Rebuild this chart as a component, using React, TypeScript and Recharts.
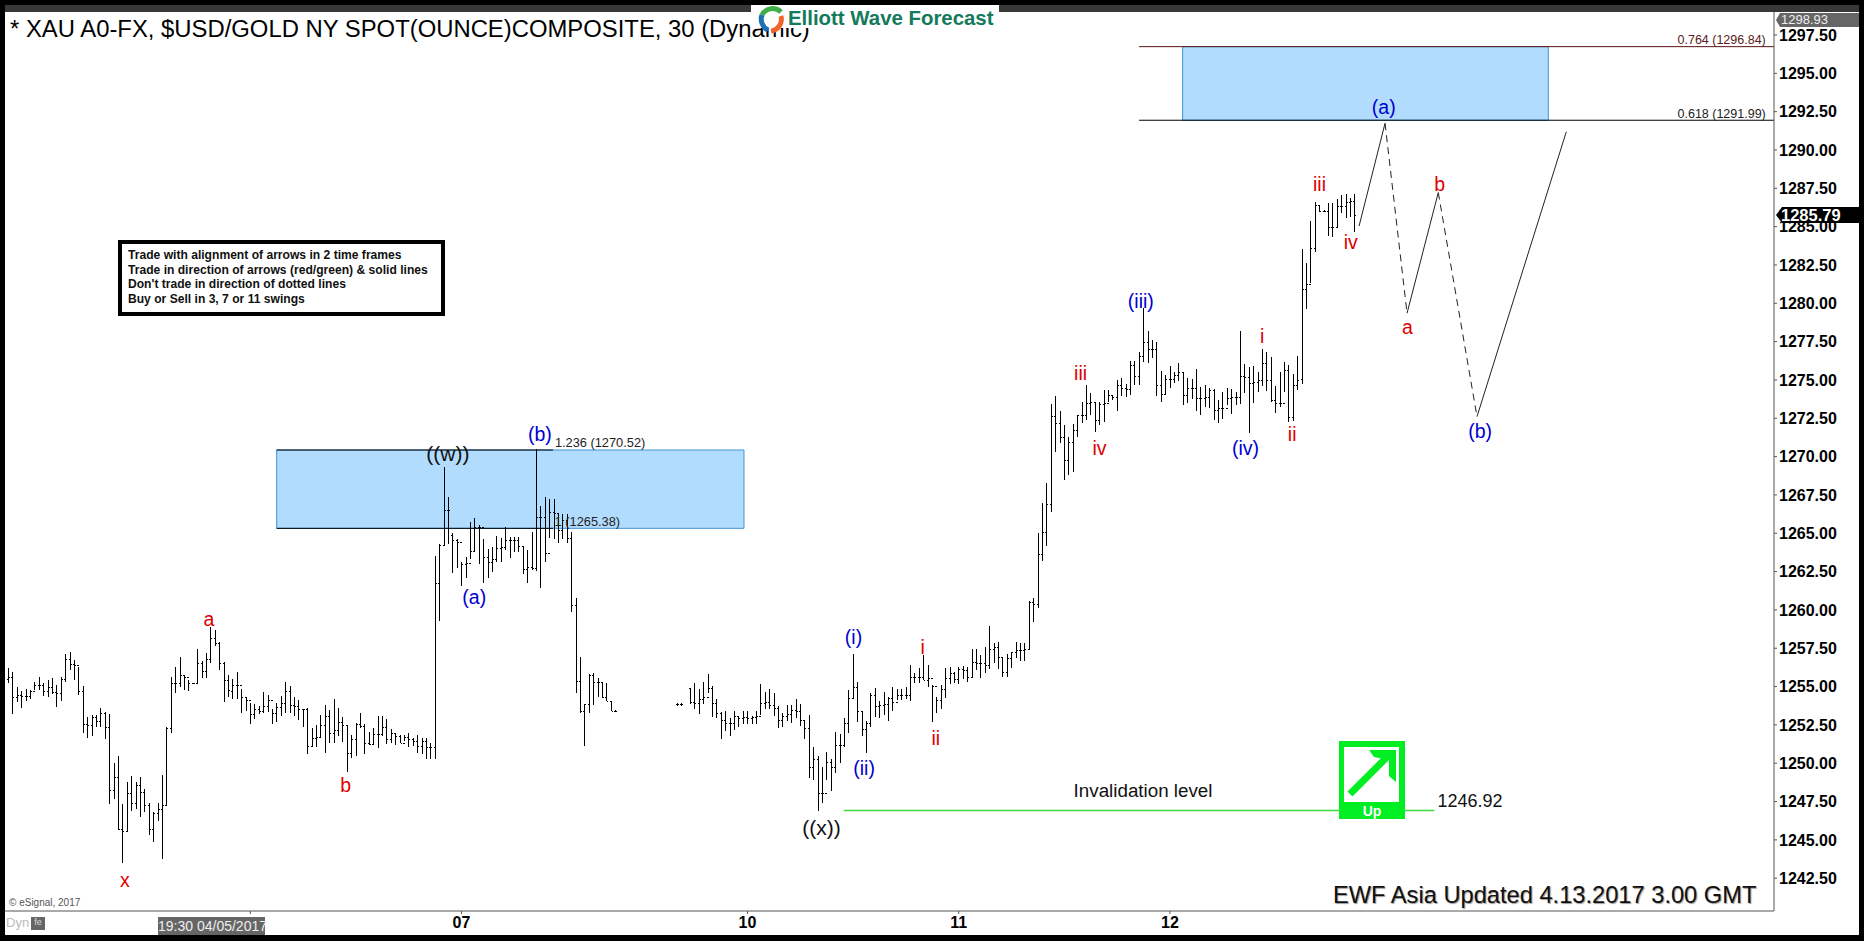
import { ComposedChart, Bar, XAxis, YAxis, ReferenceArea, ReferenceLine, ReferenceDot } from "recharts";

// 30 minute bars, slot 0 is the first bar on the left. Three runs because the feed has a gap.
const startA = 0;
const highsA = [1256.19,1255.93,1254.95,1254.71,1254.82,1254.77,1255.32,1255.60,1255.21,1255.43,1255.54,1255.10,1255.60,1257.10,1257.27,1256.73,1256.25,1255.04,1252.99,1253.14,1253.14,1253.58,1253.32,1253.19,1249.99,1250.47,1247.32,1248.75,1249.17,1248.80,1249.08,1248.30,1247.38,1246.84,1247.43,1249.23,1252.38,1255.60,1256.30,1256.91,1255.75,1255.43,1255.25,1257.43,1256.69,1257.17,1258.86,1258.69,1257.93,1256.62,1255.75,
  1255.47,1255.93,1254.82,1254.23,1253.95,1253.86,1253.73,1254.62,1254.47,1253.51,1253.95,1254.38,1255.27,1255.04,1254.30,1254.10,1253.51,1253.58,1252.27,1252.47,1253.12,1253.80,1253.47,1254.19,1253.58,1252.99,1252.49,1251.84,1252.60,1253.25,1252.56,1252.06,1252.27,1253.08,1253.08,1252.88,1252.23,1251.95,1251.84,1251.84,1251.95,1251.62,1251.84,1251.62,1251.64,1251.34,
  1263.51,1264.30,1269.30,1267.34,1265.04,1264.60,1263.15,1263.43,1265.75,1265.97,1265.54,1264.60,1263.95,1264.12,1264.84,1264.67,1265.43,1264.73,1264.78,1264.78,1264.17,1263.91,1265.10,1270.52,1266.78,1267.34,1267.21,1267.21,1266.25,1266.25,1266.25,1265.10,1260.75,1256.91,1253.86,1255.80,1255.91,1255.54,1255.25,1255.25,1254.06,1253.48];
const lowsA = [1255.25,1253.21,1254.01,1253.62,1254.08,1254.19,1254.77,1254.77,1254.38,1254.34,1254.51,1253.69,1254.06,1255.32,1256.08,1255.43,1254.45,1251.99,1251.62,1251.80,1252.38,1252.38,1251.56,1247.32,1247.67,1245.64,1243.51,1245.58,1246.91,1246.99,1246.51,1246.84,1245.32,1244.88,1246.23,1243.77,1247.27,1251.95,1254.56,1254.99,1254.77,1254.73,1255.17,1255.21,1255.54,1255.54,1256.51,1257.64,1256.08,1254.01,1254.34,
  1254.19,1254.19,1253.30,1253.43,1252.56,1252.86,1253.21,1253.25,1253.32,1252.56,1252.71,1253.08,1253.30,1253.30,1253.08,1252.82,1252.38,1250.60,1251.04,1251.08,1251.62,1250.69,1251.30,1251.30,1251.77,1251.41,1249.45,1250.32,1250.47,1252.27,1250.60,1251.19,1251.19,1250.99,1251.80,1251.23,1251.30,1251.19,1251.30,1251.47,1251.08,1251.12,1250.69,1250.58,1250.27,1250.25,
  1250.30,1259.30,1264.19,1264.28,1262.43,1262.71,1261.58,1262.06,1263.30,1263.80,1262.99,1261.73,1262.06,1262.49,1263.15,1263.15,1263.91,1263.41,1263.75,1263.80,1262.32,1261.78,1262.60,1262.54,1261.41,1263.10,1264.67,1264.60,1264.34,1264.60,1264.38,1259.88,1254.60,1253.30,1251.15,1253.25,1253.80,1254.34,1254.23,1254.06,1253.43,1253.38];
const opensA = [1255.50,1255.64,1254.34,1254.45,1254.38,1254.38,1254.73,1255.10,1255.10,1254.73,1254.95,1254.67,1254.60,1255.47,1256.77,1256.47,1256.41,1254.73,1252.54,1252.49,1253.04,1252.77,1253.30,1252.38,1248.25,1249.08,1245.69,1245.56,1248.08,1247.38,1248.58,1248.14,1247.27,1245.69,1246.77,1247.01,1247.27,1252.27,1255.21,1255.21,1255.75,1255.60,1255.21,1255.21,1256.51,1256.04,1256.77,1258.14,1257.82,1256.51,1255.43,
  1254.73,1255.10,1255.10,1254.34,1254.12,1253.19,1253.51,1253.43,1253.73,1254.12,1253.25,1253.64,1253.90,1254.73,1253.80,1253.73,1253.51,1253.51,1251.12,1251.62,1251.73,1252.49,1253.08,1251.95,1252.17,1252.71,1252.49,1250.69,1251.56,1252.56,1252.43,1251.30,1251.25,1251.91,1251.91,1252.38,1251.58,1251.95,1251.77,1251.34,1251.73,1251.56,1251.47,1251.12,1251.47,1251.08,
  1251.08,1261.73,1264.23,1266.51,1264.90,1264.56,1264.45,1262.99,1263.04,1263.86,1265.43,1265.43,1263.47,1263.15,1263.30,1264.01,1264.08,1264.56,1264.56,1264.56,1264.17,1262.65,1262.78,1262.71,1266.08,1266.08,1263.69,1266.41,1266.30,1265.21,1265.86,1264.67,1260.32,1255.38,1253.43,1253.86,1255.75,1255.32,1255.32,1254.34,1254.06,1253.43];
const closesA = [1255.64,1254.34,1254.45,1254.38,1254.38,1254.73,1255.10,1255.10,1254.73,1254.95,1254.67,1254.60,1255.47,1256.77,1256.47,1256.41,1254.73,1252.54,1252.49,1253.04,1252.77,1253.30,1252.38,1248.25,1249.08,1245.69,1245.56,1248.08,1247.38,1248.58,1248.14,1247.27,1245.69,1246.77,1247.01,1247.27,1252.27,1255.21,1255.21,1255.75,1255.60,1255.21,1255.21,1256.51,1256.04,1256.77,1258.14,1257.82,1256.51,1255.43,1254.77,
  1255.10,1255.10,1254.34,1254.12,1253.19,1253.51,1253.43,1253.73,1254.12,1253.25,1253.64,1253.90,1254.73,1253.80,1253.73,1253.51,1253.51,1251.12,1251.62,1251.73,1252.49,1253.08,1251.95,1252.17,1252.71,1252.49,1250.69,1251.56,1252.56,1252.43,1251.30,1251.25,1251.91,1251.91,1252.38,1251.58,1251.95,1251.77,1251.34,1251.73,1251.56,1251.47,1251.12,1251.47,1251.08,1251.08,
  1261.73,1264.23,1266.51,1266.51,1264.56,1264.45,1262.99,1263.04,1263.86,1265.43,1265.43,1263.47,1263.15,1263.30,1264.01,1264.08,1264.56,1264.56,1264.56,1264.17,1262.65,1262.78,1262.71,1266.08,1266.08,1263.69,1266.41,1266.30,1265.21,1265.86,1264.67,1260.32,1255.38,1253.43,1253.86,1255.75,1255.32,1255.32,1254.34,1254.06,1253.43,1253.43];

const startB = 152;
const highsB = [1253.94,1253.94];
const lowsB = [1253.75,1253.75];
const opensB = [1253.85,1253.85];
const closesB = [1253.85,1253.85];

const startC = 155;
const highsC = [1254.88,1255.20,1254.81,1255.27,1255.81,1255.03,1254.16,1253.31,1253.40,1252.92,1253.40,1253.03,1253.40,1253.42,1253.07,1253.40,1255.16,1254.66,1254.83,1254.55,1253.73,1253.29,1253.79,1253.79,1254.16,1253.86,1252.81,1253.14,1251.03,1250.46,1249.73,1250.75,1250.25,1252.01,1251.90,1252.92,1254.77,1257.12,1255.31,1253.42,1252.75,1254.60,1254.88,1254.07,1254.66,1254.33,1254.99,1254.81,1254.81,1254.94,1256.40,1255.86,1256.18,1257.05,
  1256.41,1255.10,1254.34,1255.10,1256.19,1256.30,1255.97,1256.30,1256.34,1256.30,1257.43,1257.43,1257.06,1257.56,1258.95,1257.82,1257.93,1256.91,1257.12,1257.28,1257.93,1257.82,1257.82,1260.56,1260.76,1264.99,1266.95,1268.26,1273.43,1273.95,1272.97,1272.06,1271.26,1272.12,1272.71,1273.56,1274.67,1274.15,1273.56,1273.56,1274.34,1274.34,1274.02,
  1275.00,1275.11,1274.74,1276.24,1276.26,1276.85,1279.67,1278.20,1277.61,1277.50,1275.59,1275.33,1275.91,1275.54,1276.09,1275.44,1275.11,1275.04,1275.70,1274.57,1274.67,1274.46,1274.41,1273.70,1274.24,1274.46,1274.41,1274.24,1278.20,1276.04,1275.87,1275.91,1275.54,1277.00,1276.85,1276.52,1274.61,1275.54,1276.20,1275.98,1275.39,1276.57,
  1283.54,1282.61,1285.39,1286.63,1286.41,1286.08,1286.52,1286.52,1286.78,1287.06,1287.13,1286.84,1287.13];
const lowsC = [1253.86,1253.53,1253.18,1253.86,1254.55,1253.03,1252.92,1251.60,1252.12,1251.79,1252.16,1252.33,1252.55,1252.55,1252.55,1252.55,1253.14,1253.51,1253.51,1253.07,1252.31,1252.38,1252.75,1252.60,1252.92,1252.42,1251.60,1249.05,1248.90,1246.90,1247.38,1248.90,1248.20,1249.33,1250.03,1251.03,1251.99,1254.23,1252.70,1251.77,1250.68,1252.38,1252.99,1252.92,1253.14,1252.75,1253.40,1254.12,1254.12,1254.16,1254.05,1255.20,1255.20,1255.42,
  1254.99,1252.70,1253.30,1253.52,1254.26,1255.17,1255.21,1255.17,1255.47,1255.32,1255.54,1256.08,1255.54,1255.91,1256.12,1256.52,1256.12,1255.60,1255.60,1256.19,1256.84,1256.69,1256.69,1257.43,1259.23,1260.10,1263.21,1264.19,1266.41,1270.32,1270.86,1268.47,1268.80,1269.02,1271.26,1272.21,1272.39,1272.71,1271.62,1272.06,1272.28,1273.56,1273.70,
  1273.00,1273.96,1273.91,1274.02,1274.67,1274.67,1276.20,1276.13,1276.41,1273.96,1273.59,1274.09,1274.50,1274.78,1274.96,1273.37,1273.52,1273.74,1273.00,1272.72,1273.22,1273.15,1272.39,1272.22,1272.44,1273.37,1272.78,1273.37,1273.41,1274.17,1271.57,1273.48,1274.24,1274.63,1274.30,1273.59,1272.83,1273.22,1274.24,1272.28,1272.35,1274.35,
  1274.74,1279.61,1281.30,1283.37,1285.97,1285.95,1284.39,1284.34,1285.00,1285.87,1285.54,1285.61,1284.67];
const opensC = [1254.88,1254.00,1253.94,1254.18,1254.33,1254.92,1253.90,1253.29,1252.81,1252.64,1252.60,1253.07,1252.92,1253.03,1252.92,1252.99,1253.07,1253.94,1254.01,1253.79,1253.57,1252.81,1253.07,1253.20,1253.46,1253.42,1252.81,1252.27,1249.73,1250.29,1248.07,1248.07,1250.10,1249.77,1251.18,1251.18,1252.64,1254.23,1254.99,1253.42,1252.20,1252.60,1254.44,1253.73,1253.79,1253.86,1254.23,1254.01,1254.44,1254.44,1254.44,1255.64,1255.60,1255.64,
  1255.46,1255.54,1255.04,1254.12,1254.82,1255.54,1255.91,1255.47,1256.12,1256.08,1255.65,1256.62,1256.56,1256.52,1256.41,1257.43,1257.60,1256.91,1255.97,1256.84,1257.24,1257.39,1257.39,1257.43,1260.54,1260.39,1263.65,1265.10,1266.91,1272.65,1272.17,1271.30,1269.78,1270.97,1271.73,1272.71,1272.71,1273.47,1273.58,1272.39,1273.40,1273.50,1274.02,
  1273.87,1274.67,1274.46,1274.39,1275.98,1275.26,1276.57,1277.50,1277.00,1277.00,1274.67,1274.09,1275.04,1275.04,1275.33,1275.54,1274.02,1274.46,1274.46,1273.80,1273.80,1273.91,1274.35,1273.04,1273.15,1273.15,1273.80,1273.87,1273.91,1275.26,1275.17,1274.83,1274.89,1275.00,1276.09,1275.00,1273.70,1273.48,1273.48,1275.65,1272.61,1274.67,
  1275.04,1280.91,1281.26,1283.58,1286.41,1286.04,1286.04,1285.00,1285.00,1286.34,1286.34,1286.63,1286.69];
const closesC = [1254.00,1253.94,1254.18,1254.33,1254.92,1253.90,1253.29,1252.81,1252.64,1252.60,1253.07,1252.92,1253.03,1252.92,1252.99,1253.07,1253.94,1254.01,1253.79,1253.57,1252.81,1253.07,1253.20,1253.46,1253.42,1252.81,1252.27,1249.73,1250.29,1248.07,1248.07,1250.10,1249.77,1251.18,1251.18,1252.64,1254.23,1254.99,1253.42,1252.20,1252.60,1254.44,1253.73,1253.79,1253.86,1254.23,1254.01,1254.44,1254.44,1254.44,1255.64,1255.60,1255.64,1255.46,
  1255.54,1255.04,1254.12,1254.82,1255.54,1255.91,1255.47,1256.12,1256.08,1255.65,1256.62,1256.56,1256.52,1256.41,1257.43,1257.60,1256.91,1255.97,1256.84,1257.24,1257.39,1257.39,1257.43,1260.54,1260.39,1263.65,1265.10,1266.91,1272.65,1272.17,1271.30,1269.78,1270.97,1271.73,1272.71,1272.71,1273.47,1273.58,1272.39,1273.40,1273.50,1274.02,1273.87,
  1274.67,1274.46,1274.39,1275.98,1275.26,1276.57,1277.50,1277.00,1277.00,1274.67,1274.09,1275.04,1275.04,1275.33,1275.54,1274.02,1274.46,1274.46,1273.80,1273.80,1273.91,1274.35,1273.04,1273.15,1273.15,1273.80,1273.87,1273.91,1275.26,1275.17,1274.83,1274.89,1275.00,1276.09,1275.00,1273.70,1273.48,1273.48,1275.65,1272.61,1274.67,1275.00,
  1280.91,1281.26,1283.58,1286.41,1286.04,1286.04,1285.00,1285.00,1286.34,1286.34,1286.63,1286.69,1285.79];

const priceTicks = [1297.5,1295,1292.5,1290,1287.5,1285,1282.5,1280,1277.5,1275,1272.5,1270,1267.5,1265,1262.5,1260,1257.5,1255,1252.5,1250,1247.5,1245,1242.5];
const daySlots = [55,103,168,216,264];
const dayLabels = ["","07","10","11","12"];

// wave count labels
const waveTexts = ["a","b","x","((w))","(b)","(a)","((x))","(i)","(ii)","i","ii","iii","iv","(iii)","(iv)","i","ii","iii","iv","(a)","a","b","(b)"];
const waveSlots = [45.6,76.7,26.5,99.9,120.8,105.9,184.8,192.1,194.5,207.8,210.8,243.7,248,257.4,281.2,285,291.8,298,305.1,312.6,318,325.3,334.5];
const wavePrices = [1259.37,1248.6,1242.38,1270.17,1271.47,1260.84,1245.8,1258.23,1249.7,1257.6,1251.64,1275.45,1270.56,1280.16,1270.56,1277.84,1271.47,1287.78,1283.96,1292.8,1278.45,1287.78,1271.64];
const waveColors = ["#e00000","#e00000","#e00000","#111111","#0000d0","#0000d0","#111111","#0000d0","#0000d0","#e00000","#e00000","#e00000","#e00000","#0000d0","#0000d0","#e00000","#e00000","#e00000","#e00000","#0000d0","#e00000","#e00000","#0000d0"];

// projected path after the last bar
const pathSlots = [307,312.9,317.9,325,333.8,354.1];
const pathPrices = [1285.04,1291.74,1279.35,1287.22,1272.61,1291.19];
const pathDashes = ["", "7 5", "", "7 5", ""];

const bars = [
  ...highsA.map((high, i) => ({ slot: startA + i, high, low: lowsA[i], open: opensA[i], close: closesA[i] })),
  ...highsB.map((high, i) => ({ slot: startB + i, high, low: lowsB[i], open: opensB[i], close: closesB[i] })),
  ...highsC.map((high, i) => ({ slot: startC + i, high, low: lowsC[i], open: opensC[i], close: closesC[i] })),
];

const BOX_FILL = "#b2dcfd";
const BOX_EDGE = "#3d94d6";

function OhlcBar(props: any) {
  const { x, y, width, height, payload } = props;
  const perUnit = height / (payload.high - payload.low);
  const cx = Math.round(x + width / 2) + 0.5;
  const openY = Math.round(y + (payload.high - payload.open) * perUnit) + 0.5;
  const closeY = Math.round(y + (payload.high - payload.close) * perUnit) + 0.5;
  return (
    <path
      d={`M${cx} ${y}V${y + height}M${cx - 1.5} ${openY}H${cx}M${cx} ${closeY}H${cx + 1.5}`}
      stroke="#000"
      strokeWidth={1}
      shapeRendering="crispEdges"
      fill="none"
    />
  );
}

function Logo() {
  return (
    <div style={{ position: "absolute", left: 751, top: 5, width: 248, height: 23, background: "#fff" }}>
      <svg width={40} height={30} style={{ position: "absolute", left: 3, top: 0 }}>
        <path d="M8 10 A12 12 0 0 1 27 7" stroke="#3fae49" strokeWidth={5} fill="none" />
        <path d="M8 10 A12 12 0 0 0 14 25" stroke="#1f6fb5" strokeWidth={5} fill="none" />
        <path d="M27 11 A12 12 0 0 1 17 26" stroke="#f0662a" strokeWidth={5} fill="none" />
      </svg>
      <span style={{ position: "absolute", left: 37, top: 2, fontSize: 20.4, fontWeight: 700, color: "#147a5c", whiteSpace: "nowrap" }}>
        Elliott Wave Forecast
      </span>
    </div>
  );
}

function UpBadge() {
  return (
    <div style={{ position: "absolute", left: 1339, top: 741, width: 66, height: 78, background: "#00ee22" }}>
      <div style={{ position: "absolute", left: 5, top: 6, width: 55, height: 55, background: "#fff" }} />
      <svg width={66} height={66} style={{ position: "absolute", left: 0, top: 0 }}>
        <path d="M11 53 L50 14" stroke="#00ee22" strokeWidth={7} fill="none" />
        <path d="M30 9 H57 V41 L50 35 V19 L35 16 Z" fill="#00ee22" />
      </svg>
      <div style={{ position: "absolute", left: 0, top: 62, width: 66, textAlign: "center", color: "#fff", fontWeight: 700, fontSize: 14 }}>Up</div>
    </div>
  );
}

const legendLines = [
  "Trade with alignment of arrows in 2 time frames",
  "Trade in direction of arrows (red/green) & solid lines",
  "Don't trade in direction of dotted lines",
  "Buy or Sell in 3, 7 or 11 swings",
];

export default function App() {
  return (
    <div style={{ position: "absolute", left: 0, top: 0, width: 1864, height: 941, background: "#000", overflow: "hidden", fontFamily: "'Liberation Sans', Arial, sans-serif" }}>
      <div style={{ position: "absolute", left: 5, top: 5, width: 1854, height: 930, background: "#fff" }} />
      <div style={{ position: "absolute", left: 5, top: 5, width: 1854, height: 7, background: "#383838" }} />

      <ComposedChart
        width={1864}
        height={941}
        data={bars}
        margin={{ top: 12, right: 0, bottom: 6, left: 5 }}
        style={{ position: "absolute", left: 0, top: 0 }}
      >
        <XAxis
          type="number"
          dataKey="slot"
          domain={[-0.75, 401.3]}
          allowDataOverflow
          ticks={daySlots}
          tickFormatter={(v) => dayLabels[daySlots.indexOf(v)]}
          tick={{ fill: "#000", fontSize: 16, fontWeight: 700 }}
          tickSize={3}
          tickMargin={3}
          stroke="#555"
          height={24}
        />
        <YAxis
          orientation="right"
          domain={[1240.36, 1299]}
          allowDataOverflow
          ticks={priceTicks}
          interval={0}
          tickFormatter={(v) => v.toFixed(2)}
          tick={{ fill: "#000", fontSize: 16, fontWeight: 700 }}
          tickSize={3}
          tickMargin={2}
          stroke="#555"
          width={90}
        />

        <ReferenceArea x1={61} x2={167.2} y1={1265.32} y2={1270.43} fill={BOX_FILL} fillOpacity={1} stroke={BOX_EDGE} />
        <ReferenceArea x1={266.9} x2={350} y1={1291.94} y2={1296.74} fill={BOX_FILL} fillOpacity={1} stroke={BOX_EDGE} />
        <ReferenceLine segment={[{ x: 61, y: 1270.43 }, { x: 123.8, y: 1270.43 }]} stroke="#000" />
        <ReferenceLine segment={[{ x: 61, y: 1265.32 }, { x: 123.8, y: 1265.32 }]} stroke="#000" />
        <ReferenceLine segment={[{ x: 257, y: 1296.74 }, { x: 401.3, y: 1296.74 }]} stroke="#5a1414" />
        <ReferenceLine segment={[{ x: 257, y: 1291.94 }, { x: 401.3, y: 1291.94 }]} stroke="#000" />
        <ReferenceLine segment={[{ x: 189.9, y: 1246.92 }, { x: 324.1, y: 1246.92 }]} stroke="#3fd83f" strokeWidth={1.5} />

        <Bar dataKey={(d: any) => [d.low, d.high]} barSize={4} shape={<OhlcBar />} isAnimationActive={false} />

        {pathDashes.map((dash, i) => (
          <ReferenceLine
            key={i}
            segment={[{ x: pathSlots[i], y: pathPrices[i] }, { x: pathSlots[i + 1], y: pathPrices[i + 1] }]}
            stroke="#222"
            strokeWidth={1}
            strokeDasharray={dash}
          />
        ))}

        {waveTexts.map((text, i) => (
          <ReferenceDot
            key={i}
            x={waveSlots[i]}
            y={wavePrices[i]}
            r={0}
            stroke="none"
            label={{ value: text, position: "center", fill: waveColors[i], fontSize: text.startsWith("((") ? 21 : 19.5 }}
          />
        ))}

        <ReferenceDot x={389.4} y={1297.22} r={0} stroke="none" label={{ value: "0.764 (1296.84)", position: "center", fill: "#5a2020", fontSize: 12.5 }} />
        <ReferenceDot x={389.4} y={1292.39} r={0} stroke="none" label={{ value: "0.618 (1291.99)", position: "center", fill: "#222", fontSize: 12.5 }} />
        <ReferenceDot x={134.5} y={1270.9} r={0} stroke="none" label={{ value: "1.236 (1270.52)", position: "center", fill: "#222", fontSize: 12.8 }} />
        <ReferenceDot x={131.6} y={1265.75} r={0} stroke="none" label={{ value: "1 (1265.38)", position: "center", fill: "#222", fontSize: 12.8 }} />
        <ReferenceDot x={257.9} y={1248.2} r={0} stroke="none" label={{ value: "Invalidation level", position: "center", fill: "#111", fontSize: 18.8 }} />
        <ReferenceDot x={332.2} y={1247.53} r={0} stroke="none" label={{ value: "1246.92", position: "center", fill: "#111", fontSize: 18 }} />
      </ComposedChart>

      <div style={{ position: "absolute", left: 10, top: 15, fontSize: 23.85, color: "#000", whiteSpace: "nowrap" }}>
        * XAU A0-FX, $USD/GOLD NY SPOT(OUNCE)COMPOSITE, 30 (Dynamic)
      </div>
      <Logo />

      <div style={{ position: "absolute", left: 118, top: 240, width: 327, height: 76, boxSizing: "border-box", border: "4px solid #000", background: "#fff" }}>
        {legendLines.map((line, i) => (
          <div key={i} style={{ position: "absolute", left: 6, top: 4 + i * 14.7, fontSize: 12.1, lineHeight: "14px", fontWeight: 700, whiteSpace: "nowrap", color: "#111" }}>
            {line}
          </div>
        ))}
      </div>

      <UpBadge />

      <div style={{ position: "absolute", left: 1333, top: 882, fontSize: 23.66, color: "#111", whiteSpace: "nowrap", textShadow: "1px 1px 1px #999" }}>
        EWF Asia Updated 4.13.2017 3.00 GMT
      </div>
      <div style={{ position: "absolute", left: 9, top: 897, fontSize: 10, color: "#555", whiteSpace: "nowrap" }}>© eSignal, 2017</div>
      <div style={{ position: "absolute", left: 6, top: 915, fontSize: 13, color: "#bbb" }}>Dyn</div>
      <div style={{ position: "absolute", left: 31, top: 917, width: 14, height: 13, background: "#666", color: "#ddd", fontSize: 9, textAlign: "center" }}>fe</div>
      <div style={{ position: "absolute", left: 158, top: 917, width: 107, height: 18, background: "#666", color: "#eee", fontSize: 14, lineHeight: "18px", textAlign: "center", whiteSpace: "nowrap" }}>
        19:30 04/05/2017
      </div>

      <div style={{ position: "absolute", left: 1776, top: 13, width: 83, height: 14, background: "#666", clipPath: "polygon(0 50%, 4px 0, 100% 0, 100% 100%, 4px 100%)", color: "#eee", fontSize: 13, lineHeight: "14px", paddingLeft: 5, boxSizing: "border-box" }}>
        1298.93
      </div>
      <div style={{ position: "absolute", left: 1776, top: 207, width: 83, height: 16, background: "#000", clipPath: "polygon(0 50%, 6px 0, 100% 0, 100% 100%, 6px 100%)", color: "#fff", fontSize: 16.5, fontWeight: 700, lineHeight: "16px", paddingLeft: 5, boxSizing: "border-box" }}>
        1285.79
      </div>
    </div>
  );
}
